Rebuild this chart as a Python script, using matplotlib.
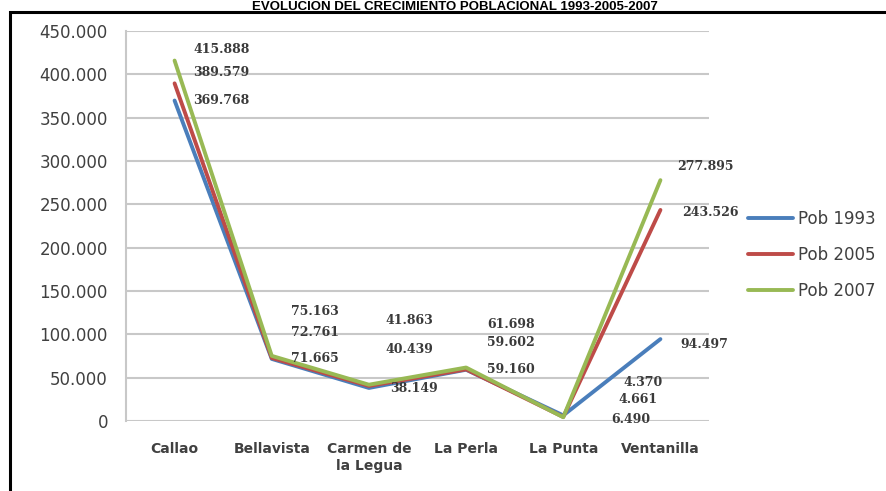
import matplotlib
matplotlib.use("Agg")
import matplotlib.pyplot as plt
from matplotlib.patches import Rectangle
from matplotlib.ticker import FuncFormatter

# ---- data ----
categories = ["Callao", "Bellavista", "Carmen de\nla Legua", "La Perla", "La Punta", "Ventanilla"]
series_names = ["Pob 1993", "Pob 2005", "Pob 2007"]
pob_1993 = [369768, 71665, 38149, 59160, 6490, 94497]
pob_2005 = [389579, 72761, 40439, 59602, 4661, 243526]
pob_2007 = [415888, 75163, 41863, 61698, 4370, 277895]
title = "EVOLUCIÓN DEL CRECIMIENTO POBLACIONAL 1993-2005-2007"

# ---- styling ----
colors = ["#4a7ebb", "#be4b48", "#98b954"]
# label offsets in pixels (dx, dy) per series per category
label_offsets = {
    0: [(47, 0), (43, 0), (45, -1), (45, 0), (68, -4), (44, -5)],
    1: [(47, 11), (43, 25), (40, 36), (45, 27), (75, 17), (50, -3)],
    2: [(47, 11), (43, 44), (40, 64), (45, 43), (80, 35), (45, 14)],
}

W, H = 886, 491
fig = plt.figure(figsize=(W / 100, H / 100), dpi=100)
fig.patch.set_facecolor("white")

ax = fig.add_axes([126 / W, 1 - 421 / H, (709 - 126) / W, (421 - 31) / H])

data = [pob_1993, pob_2005, pob_2007]
x = list(range(len(categories)))
for i, (name, vals) in enumerate(zip(series_names, data)):
    ax.plot(x, vals, color=colors[i], lw=2.8, label=name, solid_capstyle="round", zorder=3)

for i, vals in enumerate(data):
    for j, v in enumerate(vals):
        dx, dy = label_offsets[i][j]
        ax.annotate(f"{v:,}".replace(",", "."), xy=(j, v), xytext=(dx, dy),
                    textcoords="offset pixels", ha="center", va="center",
                    fontsize=9, family="DejaVu Serif", fontweight="bold",
                    color="#3a3a3a", zorder=4)

ax.set_xlim(-0.5, 5.5)
ax.set_ylim(0, 450000)
ax.set_yticks(range(0, 450001, 50000))
ax.yaxis.set_major_formatter(FuncFormatter(lambda v, p: f"{int(v):,}".replace(",", ".")))
ax.set_xticks(x)
ax.set_xticklabels(categories, fontsize=10, fontweight="bold", color="#404040",
                   family="DejaVu Sans", linespacing=1.3)
for lab in ax.get_yticklabels():
    lab.set_fontsize(12)
    lab.set_color("#404040")
ax.tick_params(axis="y", length=0, pad=13)
ax.tick_params(axis="x", length=0, pad=15)
ax.grid(axis="y", color="#c8c8c8", lw=1.5)
ax.set_axisbelow(True)
for s in ["top", "right", "bottom"]:
    ax.spines[s].set_visible(False)
ax.spines["left"].set_color("#c8c8c8")
ax.spines["left"].set_linewidth(1.5)

leg = fig.legend(loc="upper left", bbox_to_anchor=(748 / W, 1 - 210 / H),
                 frameon=False, fontsize=12, handlelength=2.7, handletextpad=0.3,
                 labelspacing=1.08, borderaxespad=0, borderpad=0)
for t in leg.get_texts():
    t.set_color("#404040")

# outer frame
fig.patches.append(Rectangle((10 / W, -0.1), 2, 1.1 - 12 / H, transform=fig.transFigure,
                             fill=False, edgecolor="black", lw=2.2))

fig.text(455 / W, 1 - 1 / H, title, ha="center", va="top", fontsize=9.5,
         fontweight="bold", family="Liberation Sans")

fig.savefig("out.png", dpi=100)
